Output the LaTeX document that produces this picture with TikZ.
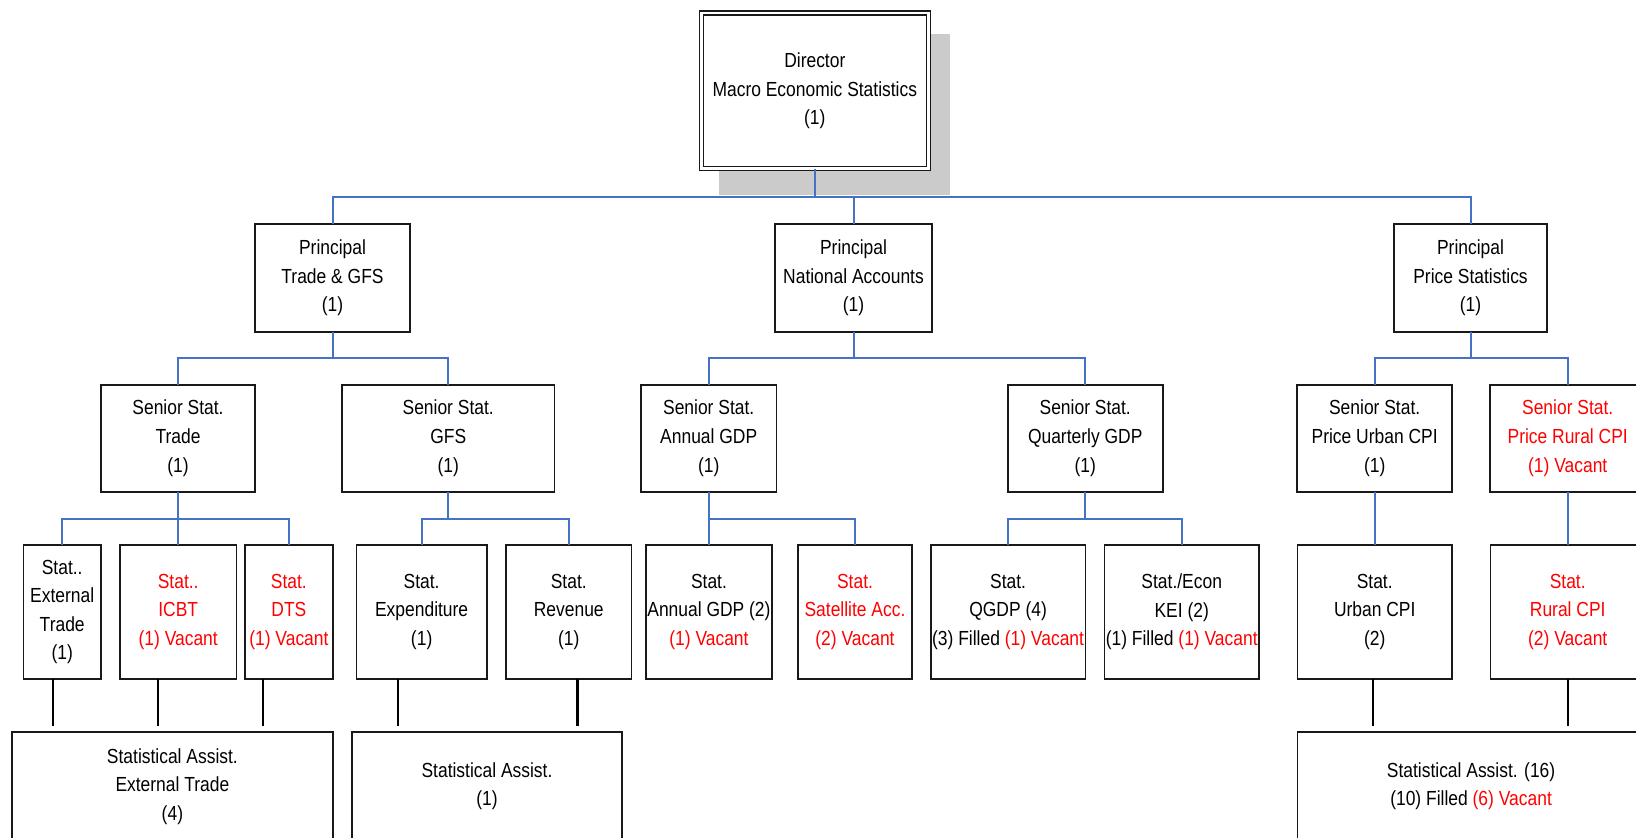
\documentclass[tikz,border=0pt]{standalone}
\usepackage{fontspec}
\setmainfont{Liberation Sans}[FakeStretch=0.855]
\usepackage{xcolor}
\usetikzlibrary{positioning, backgrounds, calc}
\definecolor{linkblue}{HTML}{4472C4}
\definecolor{shadowgray}{HTML}{CBCBCB}
\newcommand{\orgfont}{\fontsize{10.2pt}{14.3pt}\selectfont}

\begin{document}
\begin{tikzpicture}[
    box/.style={rectangle, draw=black!90, fill=white, line width=0.85pt, outer sep=0pt, inner xsep=0pt, inner ysep=0pt, align=center, font=\orgfont},
    head/.style={box, minimum height=54pt},
    senior/.style={box, minimum height=53.5pt},
    stat/.style={box, minimum height=66.75pt},
    assist/.style={box, minimum height=54pt},
    vacant/.style={text=red},
    link/.style={draw=linkblue, line width=1pt},
    feed/.style={draw=black, line width=1.1pt, shorten >=3.3pt}
]
\useasboundingbox (0,0) rectangle (818pt,-418.5pt);
\clip (0,0) rectangle (818pt,-418.5pt);

% Director
\node[box, double, double distance=1.2pt, line width=0.75pt, minimum width=113.5pt, minimum height=77.8pt] (director) at (407.4pt,-45.4pt) {Director\\Macro Economic Statistics\\(1)};

% Principals
\node[head, minimum width=77.5pt] (pTrade) at (166.25pt,-139pt) {Principal\\Trade \& GFS\\(1)};
\node[head, minimum width=78.5pt, right=182.5pt of pTrade] (pNA) {Principal\\National Accounts\\(1)};
\node[head, minimum width=76.5pt, right=231pt of pNA] (pPrice) {Principal\\Price Statistics\\(1)};

% Senior statisticians
\node[senior, minimum width=77.3pt] (sTrade) at (89pt,-219.1pt) {Senior Stat.\\Trade\\(1)};
\node[senior, minimum width=106.4pt, right=43.25pt of sTrade] (sGFS) {Senior Stat.\\GFS\\(1)};
\node[senior, minimum width=67.7pt, right=43.2pt of sGFS] (sAnnual) {Senior Stat.\\Annual GDP\\(1)};
\node[senior, minimum width=77.5pt, right=115.65pt of sAnnual] (sQuarterly) {Senior Stat.\\Quarterly GDP\\(1)};
\node[senior, minimum width=77.35pt, right=67.3pt of sQuarterly] (sUrban) {Senior Stat.\\Price Urban CPI\\(1)};
\node[senior, vacant, minimum width=77.4pt, right=19.15pt of sUrban] (sRural) {Senior Stat.\\Price Rural CPI\\(1) Vacant};

% Statisticians
\node[stat, minimum width=38.85pt] (statExt) at (31.1pt,-305.95pt) {Stat..\\External\\Trade\\(1)};
\node[stat, vacant, minimum width=58.15pt, right=9.5pt of statExt] (statICBT) {Stat..\\ICBT\\(1) Vacant};
\node[stat, vacant, minimum width=43.85pt, right=4.35pt of statICBT] (statDTS) {Stat.\\DTS\\(1) Vacant};
\node[stat, minimum width=65.2pt, right=11.85pt of statDTS] (statExp) {Stat.\\Expenditure\\(1)};
\node[stat, minimum width=62.7pt, right=9.6pt of statExp] (statRev) {Stat.\\Revenue\\(1)};
\node[stat, minimum width=62.9pt, right=7.3pt of statRev] (statAnnual) {Stat.\\Annual GDP (2)\\\textcolor{red}{(1) Vacant}};
\node[stat, vacant, minimum width=56.75pt, right=13.2pt of statAnnual] (statSat) {Stat.\\Satellite Acc.\\(2) Vacant};
\node[stat, minimum width=77.3pt, right=9.5pt of statSat] (statQGDP) {Stat.\\QGDP (4)\\(3) Filled \textcolor{red}{(1) Vacant}};
\node[stat, minimum width=77.35pt, right=9.5pt of statQGDP] (statKEI) {Stat./Econ\\KEI (2)\\(1) Filled \textcolor{red}{(1) Vacant}};
\node[stat, minimum width=77.35pt, right=19.15pt of statKEI] (statUrban) {Stat.\\Urban CPI\\(2)};
\node[stat, vacant, minimum width=77.35pt, right=19.15pt of statUrban] (statRural) {Stat.\\Rural CPI\\(2) Vacant};

% Statistical assistants
\node[assist, minimum width=160.35pt] (asstTrade) at (86.2pt,-393.15pt) {Statistical Assist.\\External Trade\\(4)};
\node[assist, minimum width=135.15pt, right=9.55pt of asstTrade] (asstGFS) {Statistical Assist.\\(1)};
\node[assist, minimum width=173.7pt, right=337.6pt of asstGFS] (asstPrice) {Statistical Assist. (16)\\(10) Filled \textcolor{red}{(6) Vacant}};

% Shadow behind director
\begin{scope}[on background layer]
\fill[shadowgray] ([shift={(9pt,-13pt)}]director.south west) rectangle ([shift={(11pt,-10.5pt)}]director.north east);
\end{scope}

% Bar levels
\coordinate (bar1) at (0,-98.5pt);
\coordinate (bar2) at (0,-178.85pt);
\coordinate (bar3) at (0,-259.35pt);

% Director to principals
\draw[link] (director.south) -- (director.south |- bar1);
\draw[link] (pTrade.north) |- (bar1 -| pPrice.north) -- (pPrice.north);
\draw[link] (pNA.north) -- (pNA.north |- bar1);

% Principals to senior statisticians
\draw[link] (pTrade.south) -- (pTrade.south |- bar2);
\draw[link] (sTrade.north) |- (bar2 -| sGFS.north) -- (sGFS.north);
\draw[link] (pNA.south) -- (pNA.south |- bar2);
\draw[link] (sAnnual.north) |- (bar2 -| sQuarterly.north) -- (sQuarterly.north);
\draw[link] (pPrice.south) -- (pPrice.south |- bar2);
\draw[link] (sUrban.north) |- (bar2 -| sRural.north) -- (sRural.north);

% Senior statisticians to statisticians
\draw[link] (sTrade.south) -- (sTrade.south |- statICBT.north);
\draw[link] (statExt.north) |- (bar3 -| statDTS.north) -- (statDTS.north);
\draw[link] (sGFS.south) -- (sGFS.south |- bar3);
\draw[link] (statExp.north) |- (bar3 -| statRev.north) -- (statRev.north);
\draw[link] (sAnnual.south) -- (sAnnual.south |- bar3);
\draw[link] (statAnnual.north) |- (bar3 -| statSat.north) -- (statSat.north);
\draw[link] (sQuarterly.south) -- (sQuarterly.south |- bar3);
\draw[link] (statQGDP.north) |- (bar3 -| statKEI.north) -- (statKEI.north);
\draw[link] (sUrban.south) -- (sUrban.south |- statUrban.north);
\draw[link] (sRural.south) -- (sRural.south |- statRural.north);

% Statisticians to assistants
\draw[feed] ([xshift=-4.75pt]statExt.south) -- ([xshift=-4.75pt]statExt.south |- asstTrade.north);
\draw[feed] ([xshift=-10.25pt]statICBT.south) -- ([xshift=-10.25pt]statICBT.south |- asstTrade.north);
\draw[feed] ([xshift=-13.05pt]statDTS.south) -- ([xshift=-13.05pt]statDTS.south |- asstTrade.north);
\draw[feed] ([xshift=-11.85pt]statExp.south) -- ([xshift=-11.85pt]statExp.south |- asstGFS.north);
\draw[feed] ([xshift=4.4pt]statRev.south) -- ([xshift=4.4pt]statRev.south |- asstGFS.north);
\draw[feed] ([xshift=-0.8pt]statUrban.south) -- ([xshift=-0.8pt]statUrban.south |- asstPrice.north);
\draw[feed] (statRural.south) -- (statRural.south |- asstPrice.north);

\end{tikzpicture}
\end{document}
